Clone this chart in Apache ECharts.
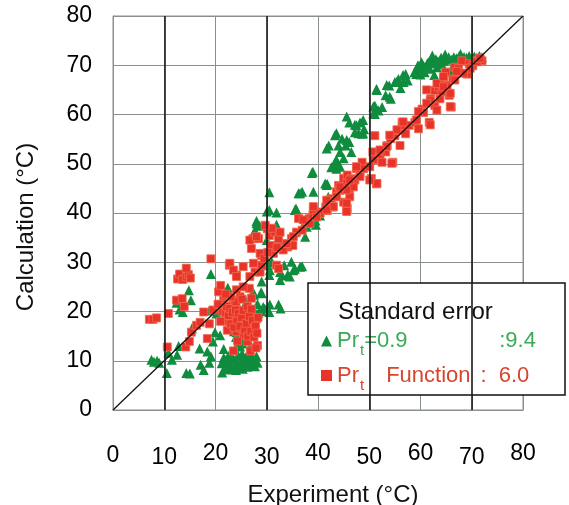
<!DOCTYPE html>
<html>
<head>
<meta charset="utf-8">
<script src="https://cdn.jsdelivr.net/npm/echarts@6/dist/echarts.min.js"></script>
<style>html,body{margin:0;padding:0;background:#fff}#c{width:569px;height:505px}</style>
</head>
<body>
<div id="c"></div>
<script>
// ---- data ----
const xTicks = [0,10,20,30,40,50,60,70,80];
const majorX = [10,30,50,70];
const diag = [[0,0],[80,80]];
const greenName = 'Pr_t=0.9';
const redName = 'Pr_t Function';
const stdErrTitle = 'Standard error';
const greenErr = ':9.4';
const redErr = '6.0';

const greenPts = [
[7.5,10.2],[8.0,9.8],[8.6,10.0],[9.0,9.6],[10.5,7.5],[10.8,11.6],[11.5,10.2],[12.5,11.2],[12.8,13.0],[12.4,21.8],
[13.0,20.4],[13.6,19.9],[14.8,24.3],[15.2,22.3],[15.4,16.6],[14.3,7.5],[15.0,7.4],[16.9,12.5],[17.1,9.2],[17.7,8.1],
[18.8,9.6],[19.1,10.9],[18.4,11.9],[19.5,13.9],[19.9,15.8],[18.8,20.2],[19.1,27.6],[20.2,19.6],[21.3,7.6],[20.9,15.2],
[21.6,12.4],[21.8,24.0],[22.4,24.8],[23.4,23.2],[24.1,15.8],[24.8,13.8],[25.4,16.9],[25.6,14.4],[26.2,15.3],[26.9,13.2],
[27.3,24.0],[27.6,18.6],[27.7,20.0],[28.4,19.8],[29.0,20.1],[29.6,20.6],[29.0,26.1],[28.9,23.9],[28.0,38.4],[28.6,37.4],
[30.5,44.2],[30.5,40.6],[31.9,40.1],[30.2,29.4],[30.5,27.4],[31.0,30.0],[32.6,28.0],[33.0,27.3],[33.4,29.4],[34.1,27.5],
[34.8,30.1],[35.5,28.7],[36.9,29.2],[32.3,21.4],[32.7,20.6],[30.5,19.9],[35.7,40.9],[35.5,36.1],[36.9,44.3],[37.2,37.5],
[38.3,38.9],[38.8,40.2],[39.0,48.4],[39.6,37.6],[40.4,39.5],[41.8,45.9],[42.1,53.7],[42.6,49.3],[43.3,50.3],[43.6,49.0],
[44.0,53.7],[44.3,52.4],[44.7,55.1],[45.0,51.1],[45.4,53.7],[46.1,58.4],[46.1,54.4],[46.5,52.4],[47.2,56.4],[47.5,57.8],
[47.9,56.2],[48.2,58.4],[48.6,56.1],[49.0,57.0],[51.1,60.1],[51.1,61.8],[51.4,65.2],[51.8,60.8],[52.5,61.5],[53.2,63.9],
[53.9,65.9],[54.2,63.2],[55.0,66.6],[55.7,67.2],[56.1,65.4],[56.7,66.6],[57.1,68.2],[57.5,66.9],[59.2,68.2],[59.6,68.9],
[60.0,68.1],[60.4,69.0],[60.6,69.9],[61.3,70.3],[61.5,70.6],[62.0,71.0],[62.5,70.4],[63.0,71.2],[63.4,70.8],[64.0,71.5],
[64.5,70.9],[65.0,71.3],[65.5,71.6],[66.0,71.1],[66.5,71.6],[67.0,71.4],[67.5,71.8],[68.0,71.2],[68.5,71.7],[69.0,71.5],
[69.5,71.9],[70.0,71.3],[70.5,71.8],[71.0,71.5],[71.5,71.9],[72.0,71.6],[63.2,69.6],[64.2,70.2],[66.0,68.9],[66.4,69.8],
[66.6,70.5],[61.8,69.3],[60.8,68.6],[62.7,68.0],[58.8,68.6],[59.5,70.0],[60.2,70.6],[62.3,72.0],[64.8,72.2],[67.8,72.3],
[21.2,9.5],[21.6,10.6],[22.0,8.8],[22.3,9.9],[22.6,11.0],[22.9,8.2],[23.2,9.4],[23.5,10.4],[23.8,8.6],[24.1,9.8],
[24.4,11.1],[24.7,8.9],[25.0,10.2],[25.3,8.4],[25.6,9.5],[25.9,10.7],[26.2,8.8],[26.5,9.9],[26.8,11.2],[27.1,9.2],
[27.4,10.4],[27.7,8.9],[28.0,10.9],[28.2,9.6],[22.1,10.3],[23.0,10.8],[24.0,8.1],[25.2,11.4],[26.0,9.2],[27.0,10.0],
[21.8,8.3],[23.6,9.1],[26.4,10.5],
[23.6,16.0],[24.0,14.8],[24.4,13.6],[24.8,12.9],[25.3,13.5],[25.8,14.3],[26.3,15.2],[26.7,16.2],
[27.5,23.4],[28.2,21.5],[29.3,20.9],[30.6,21.4],[24.5,21.0],[25.0,19.0],[26.0,22.0],
[30.0,40.3],[28.0,37.9],[27.7,36.5],[31.9,37.6],[32.6,34.5],[30.0,34.5],[36.2,44.0],[39.1,44.3],[38.8,48.1],[41.7,45.7],
[43.3,49.4],[41.7,53.1],[43.3,55.8],[35.5,40.6],[37.8,37.2],[38.8,37.9],[39.5,38.5],[37.5,35.2],[36.5,29.1],[35.2,28.4],
[34.5,27.1],[32.6,26.4],[30.6,28.4],[30.0,30.8],[29.0,23.7],[27.4,23.7],
[43.6,56.2],[45.6,54.8],[47.2,57.9],[45.6,59.6],[48.8,56.2],[48.8,58.9],[50.8,61.6],[51.5,65.0],[53.4,66.0],[55.4,66.7],
[56.6,68.0],[50.8,60.2],[54.0,63.6],[43.6,50.8],[44.3,49.4],[36.5,44.0],[35.8,40.6],[41.4,46.0],[42.0,43.3]
];

const redPts = [
[7.1,18.4],[7.8,18.4],[8.5,18.7],[10.6,12.8],[10.8,19.6],[12.4,22.3],[12.6,26.6],[13.0,27.6],[13.6,26.5],[14.3,27.0],
[14.7,27.5],[15.1,26.8],[14.3,28.8],[13.5,22.6],[13.9,21.0],[14.2,12.8],[14.9,13.9],[15.3,15.8],[16.3,17.2],[17.0,17.8],
[17.7,19.9],[18.4,14.5],[18.8,17.5],[19.1,30.7],[19.5,20.3],[20.6,24.0],[21.0,25.3],[21.3,20.0],[21.6,22.3],[22.0,18.5],
[22.3,16.2],[22.6,18.0],[22.7,29.4],[23.4,21.3],[23.7,18.3],[24.1,27.4],[24.1,15.9],[24.5,16.9],[24.8,23.0],[25.1,16.5],
[25.5,15.2],[25.9,18.5],[26.2,13.9],[26.6,24.7],[27.0,22.7],[27.3,17.3],[27.7,16.5],[28.0,18.5],[28.2,13.1],[27.7,28.0],
[28.7,28.0],[29.0,29.4],[27.0,32.8],[27.3,34.8],[28.4,34.8],[29.0,31.4],[30.1,36.8],[30.5,35.4],[30.9,33.4],[31.6,36.1],
[32.3,34.8],[32.6,36.1],[31.9,29.4],[32.3,28.7],[33.0,32.8],[34.1,33.1],[34.8,34.8],[35.1,33.4],[35.8,36.1],[36.2,38.9],
[36.9,36.5],[37.6,38.5],[38.3,38.9],[39.0,39.5],[40.4,40.2],[41.5,41.2],[41.8,40.5],[42.6,42.9],[42.9,41.2],[43.6,44.3],
[44.0,45.6],[44.3,44.6],[45.0,42.2],[45.7,40.9],[45.0,47.0],[45.7,47.7],[46.1,44.9],[46.5,47.0],[47.2,46.7],[47.5,49.0],
[48.2,48.0],[48.6,50.3],[48.9,49.0],[50.4,47.0],[50.7,52.4],[51.1,55.7],[51.4,45.9],[51.8,51.0],[52.1,51.7],[52.5,50.3],
[53.2,52.4],[53.5,53.7],[54.2,55.1],[54.6,50.3],[55.0,55.7],[55.7,56.8],[56.0,53.7],[56.4,58.4],[56.7,57.8],[57.1,56.1],
[57.8,57.8],[58.9,58.4],[59.6,57.1],[60.3,61.1],[60.6,60.4],[61.7,58.4],[62.0,63.2],[62.8,61.8],[62.8,64.9],[63.5,65.6],
[63.8,63.2],[64.2,64.6],[64.5,67.2],[64.9,68.6],[65.2,65.9],[65.6,63.9],[66.0,61.5],[66.3,67.2],[66.7,69.6],[67.4,69.3],
[68.1,70.9],[69.1,68.2],[69.5,70.3],[70.2,69.9],[70.9,70.9],[71.6,71.3],[72.0,70.9],
[21.5,21.5],[21.9,19.8],[22.2,21.0],[22.5,19.2],[22.8,20.6],[23.0,17.5],[23.3,19.8],[23.6,16.8],[23.9,20.3],[24.2,18.2],
[24.5,19.6],[24.8,17.0],[25.1,18.8],[25.4,20.2],[25.7,16.2],[26.0,17.6],[26.3,15.0],[26.6,19.0],[26.9,16.0],[27.2,18.2],
[27.5,14.8],[27.8,17.0],[28.1,15.6],[28.3,18.8],[24.0,22.0],[25.2,22.5],[26.2,21.0],[27.0,20.5],[23.0,23.0],[22.0,23.5],
[20.5,21.5],[21.0,18.0],[23.5,12.0],[24.3,14.0],[26.8,12.0],[27.9,12.6],
[24.1,24.4],[25.4,25.0],[26.7,27.1],[27.4,29.8],[26.7,34.5],[28.0,35.2],[28.7,31.8],[31.3,31.8],[33.2,32.5],[33.9,33.8],
[35.2,35.2],[38.4,37.9],[39.1,40.6],[40.4,39.9],[42.3,41.3],[41.7,42.6],[43.6,43.3],[44.3,44.7],[45.6,46.0],[45.6,40.6],
[46.2,43.3],[46.9,45.3],[22.8,29.8],[23.5,28.4],[25.4,29.1],[24.1,27.1],[29.5,30.8],[30.2,32.0],[31.0,36.9],[29.7,37.5],
[32.0,33.0],
[61.2,65.0],[61.9,62.9],[63.2,66.3],[64.5,67.7],[65.8,64.3],[65.8,61.6],[63.2,60.9],[59.6,60.6],[59.2,58.9],[61.9,57.9],
[56.6,58.5],[55.4,56.9],[54.0,55.8],[53.4,53.5],[52.1,52.8],[50.8,50.8],[50.1,49.4],[51.5,46.0],[50.1,46.7],[54.4,50.1],
[47.5,49.4],[48.2,47.4],[46.2,46.7],[45.6,44.7],[44.3,45.3],[43.6,43.3],[45.6,42.0],[45.6,40.3],[43.0,41.3],[41.7,40.6],
[39.1,41.3],[39.7,39.2],[37.1,38.6],[69.7,69.4],[71.0,70.7],[71.6,71.4],[68.4,68.4],[67.1,68.7],[66.7,67.0],[64.5,65.6],
[61.2,62.3]
];

// ---- chart ----
const FONT = "'Liberation Sans', Arial, sans-serif";
const GREEN = '#0f8c3e', RED = '#e8332a';
const GREEN_T = '#3aaa58', RED_T = '#d8452e';
const chart = echarts.init(document.getElementById('c'), null, {renderer: 'canvas'});

const xLabelFmt = v => (v === 0 ? '{z|' : (v % 20 === 10 ? '{lo|' : '{hi|')) + v + '}';

chart.setOption({
  animation: false,
  backgroundColor: '#fff',
  grid: {left: 113, right: 46, top: 16, bottom: 95, containLabel: false, outerBoundsMode: 'none',
         show: true, borderColor: '#8a918c', borderWidth: 1},
  xAxis: {
    type: 'value', min: 0, max: 80, interval: 10,
    name: 'Experiment (°C)', nameLocation: 'middle', nameGap: 73,
    nameTextStyle: {fontFamily: FONT, fontSize: 24, color: '#111', padding: [0, 0, 0, 30]},
    axisLine: {lineStyle: {color: '#8a918c', width: 1}},
    axisTick: {show: false},
    axisLabel: {
      margin: 32, formatter: xLabelFmt, color: '#000', fontFamily: FONT, fontSize: 23,
      rich: {
        z: {fontFamily: FONT, fontSize: 23, color: '#000', padding: [2, 0, 0, 0]},
        lo: {fontFamily: FONT, fontSize: 23, color: '#000', padding: [4, 0, 0, 0]},
        hi: {fontFamily: FONT, fontSize: 23, color: '#000', padding: [0, 0, 0, 0]}
      }
    },
    splitLine: {show: true, lineStyle: {color: '#8a918c', width: 1}}
  },
  yAxis: {
    type: 'value', min: 0, max: 80, interval: 10,
    name: 'Calculation (°C)', nameLocation: 'middle', nameGap: 75, nameRotate: 90,
    nameTextStyle: {fontFamily: FONT, fontSize: 24, color: '#111', padding: [0, 28, 0, 0]},
    axisLine: {lineStyle: {color: '#8a918c', width: 1}},
    axisTick: {show: false},
    axisLabel: {margin: 21, color: '#000', fontFamily: FONT, fontSize: 23},
    splitLine: {show: true, lineStyle: {color: '#8a918c', width: 1}}
  },
  legend: {
    show: true, orient: 'vertical', left: 321, top: 330, padding: 0,
    itemWidth: 11, itemHeight: 11, itemGap: 6, selectedMode: false,
    data: [{name: greenName, icon: 'triangle', itemStyle: {color: GREEN, borderWidth: 0}},
           {name: redName, icon: 'rect', itemStyle: {color: RED, borderWidth: 0}}],
    formatter: n => n === greenName
      ? '{ga|Pr}{gs|t}{gb|=0.9}{ga|' + greenErr + '}'
      : '{ra|Pr}{rs|t}{rc|Function}{rd|:}{re|' + redErr + '}',
    textStyle: {
      fontFamily: FONT, fontSize: 22,
      rich: {
        ga: {fontFamily: FONT, fontSize: 22, color: GREEN_T},
        gs: {fontFamily: FONT, fontSize: 15, color: GREEN_T, padding: [20, 0, 0, 1]},
        gb: {fontFamily: FONT, fontSize: 22, color: GREEN_T, width: 135},
        ra: {fontFamily: FONT, fontSize: 22, color: RED_T},
        rs: {fontFamily: FONT, fontSize: 15, color: RED_T, padding: [20, 0, 0, 1]},
        rc: {fontFamily: FONT, fontSize: 22, color: RED_T, padding: [0, 0, 0, 22]},
        rd: {fontFamily: FONT, fontSize: 22, color: RED_T, padding: [0, 0, 0, 10]},
        re: {fontFamily: FONT, fontSize: 22, color: RED_T, padding: [0, 0, 0, 12]}
      }
    }
  },
  graphic: [
    {type: 'rect', z: 3, shape: {x: 308, y: 283, width: 257, height: 112},
     style: {fill: '#fff', stroke: '#111', lineWidth: 1.5}},
    {type: 'text', z: 5, x: 338, y: 312,
     style: {text: stdErrTitle, fill: '#111', font: "24px " + FONT, textVerticalAlign: 'middle'}}
  ],
  series: [
    {
      type: 'line', name: 'major', data: [], z: 1, silent: true,
      markLine: {
        silent: true, symbol: 'none', label: {show: false},
        lineStyle: {color: '#1a1a1a', width: 1.6, type: 'solid'},
        data: majorX.map(v => ({xAxis: v}))
      }
    },
    {
      type: 'scatter', name: greenName, data: greenPts, z: 2,
      symbol: 'triangle', symbolSize: 10,
      itemStyle: {color: GREEN, opacity: 1}
    },
    {
      type: 'scatter', name: redName, data: redPts, z: 2,
      symbol: 'rect', symbolSize: 8,
      itemStyle: {color: RED, opacity: 1, borderColor: '#f26a4e', borderWidth: 0.8}
    },
    {
      type: 'line', name: 'diag', data: diag, z: 4, symbol: 'none', silent: true,
      lineStyle: {color: '#111', width: 1.3}
    }
  ]
});
</script>
</body>
</html>
